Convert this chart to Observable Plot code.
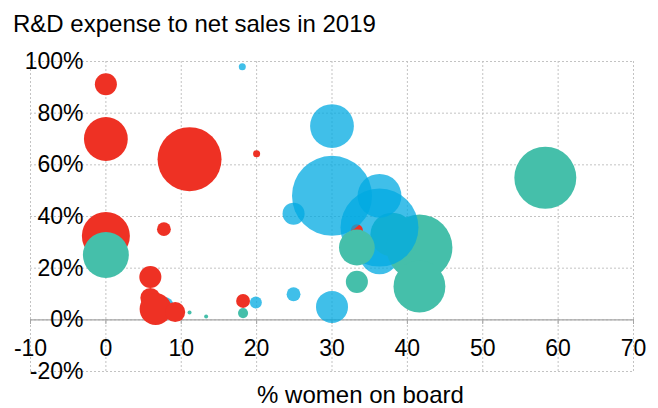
<!DOCTYPE html>
<html>
<head>
<meta charset="utf-8">
<script src="https://cdn.jsdelivr.net/npm/d3@7"></script>
<script src="https://cdn.jsdelivr.net/npm/@observablehq/plot@0.6"></script>
<style>
  html, body { margin: 0; padding: 0; background: #fff; }
  #title { height: 44px; line-height: 47px; padding-left: 13px; font-family: "Liberation Sans", Arial, sans-serif; font-size: 24px; color: #000; white-space: nowrap; }
</style>
</head>
<body>
<div id="title">R&amp;D expense to net sales in 2019</div>
<div id="chart"></div>
<script>
// Data (in drawing order); series: A = red, B = blue, C = teal
const series = ["B","A","A","A","A","A","A","A","A","A","A","A",
                "B","C","C","B","B","A","B","B","B","B","B","B","B",
                "C","C","C","C","C","C","C","C"];
const womenOnBoard = [7.8, 0, 0, 11.1, 20, 0, 7.7, 5.9, 5.9, 6.6, 9.2, 18.2,
                      36.3, 38, 41.6, 36.3, 36.3, 33.3, 30, 30, 24.9, 24.9, 30, 19.9, 18.1,
                      0, 58.3, 41.6, 33.3, 33.3, 18.2, 11.1, 13.3];
const rdToSales = [5.4, 91.2, 70, 62.2, 64.3, 32.5, 35.1, 16.6, 8.5, 4.2, 3, 7.3,
                   25.4, 33, 28, 35.7, 48, 34.7, 48, 75, 41.1, 9.9, 5, 6.7, 98,
                   25.1, 55, 12.9, 28, 14.7, 2.6, 2.8, 1.3];
const bubbleSize = [5, 7.6, 30, 64, 0.77, 36, 3, 7.6, 6.25, 16, 6.25, 3,
                    25, 30, 68, 95, 30, 2.25, 100, 30, 7.6, 3, 16, 2.25, 0.77,
                    33, 60, 42, 20, 7.6, 1.6, 0.25, 0.25];
const xTicks = [-10, 0, 10, 20, 30, 40, 50, 60, 70];
const yTicks = [-20, 0, 20, 40, 60, 80, 100];
const seriesNames = ["A", "B", "C"];
const seriesColors = ["#EE3124", "rgba(0,170,225,0.75)", "#45BFAA"];

const table = series.map((s, i) => ({series: s, x: womenOnBoard[i], y: rdToSales[i], size: bubbleSize[i]}));

const font = "'Liberation Sans', Arial, sans-serif";
const chart = Plot.plot({
  width: 658,
  height: 364,
  marginLeft: 30,
  marginRight: 25,
  marginTop: 17,
  marginBottom: 37,
  style: {fontFamily: font, color: "#000", background: "#fff", overflow: "visible"},
  x: {domain: [-10, 70]},
  y: {domain: [-20, 100]},
  r: {type: "sqrt", domain: [0, 100], range: [0, 40]},
  color: {type: "ordinal", domain: seriesNames, range: seriesColors},
  marks: [
    Plot.gridX(xTicks, {stroke: "#c3c3c3", strokeOpacity: 1, strokeDasharray: "2,2"}),
    Plot.gridY(yTicks, {stroke: "#c3c3c3", strokeOpacity: 1, strokeDasharray: "2,2"}),
    Plot.ruleY([0], {stroke: "#a6a6a6", strokeWidth: 1.2}),
    Plot.axisX({ticks: xTicks, tickFormat: d => String(d), tickSize: 5, tickPadding: 15, dy: -52,
                fontSize: 23, stroke: "#a6a6a6", label: null}),
    Plot.axisY({ticks: yTicks, tickFormat: d => String(d) + "%", tickSize: 0, tickPadding: 0, dx: 53,
                fontSize: 23, label: null}),
    Plot.dot(table, {x: "x", y: "y", r: "size", fill: "series", stroke: null, sort: null}),
    Plot.text(["% women on board"], {text: d => d, frameAnchor: "bottom", dx: 28.5, dy: 23.6,
                fontSize: 24, lineAnchor: "middle"})
  ]
});
document.getElementById("chart").appendChild(chart);
</script>
</body>
</html>
